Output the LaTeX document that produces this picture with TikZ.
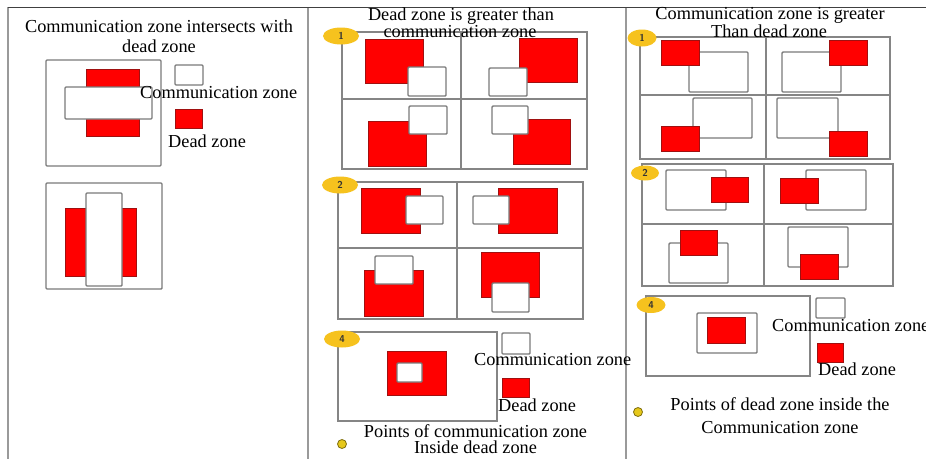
\documentclass[tikz,border=0pt]{standalone}
\usepackage{fontspec}
\setmainfont{Liberation Serif}
\usetikzlibrary{shapes.geometric}
\definecolor{framegray}{HTML}{9A9A9A}
\definecolor{gridgray}{HTML}{858585}
\definecolor{commgray}{HTML}{7A7A7A}
\definecolor{deadred}{HTML}{FF0000}
\definecolor{deadedge}{HTML}{A01010}
\definecolor{tagyellow}{HTML}{F6C21E}
\definecolor{dotyellow}{HTML}{E6C81A}
\tikzset{
  panel/.style={draw=framegray, line width=1.8pt},
  topline/.style={draw=black!75, line width=0.9pt},
  gridline/.style={draw=gridgray, line width=1.5pt},
  comm/.style={fill=white, draw=commgray, line width=1.4pt, rounded corners=1pt},
  dead/.style={fill=deadred, draw=deadedge, line width=0.9pt},
  label/.style={inner sep=0pt, font=\fontsize{18.3}{20}\selectfont},
  tag/.style={ellipse, fill=tagyellow, inner sep=0pt, minimum width=36pt,
    minimum height=17pt, font=\sffamily\bfseries\fontsize{10}{10}\selectfont,
    text=black!80},
  dot/.style={circle, fill=dotyellow, draw=black!45!dotyellow, line width=0.8pt,
    inner sep=0pt, minimum size=9pt}
}
\begin{document}
\begin{tikzpicture}[x=1pt, y=-1pt]
\useasboundingbox (0,0) rectangle (926,459);
\fill[white] (0,0) rectangle (926,459);

% panel frames
\draw[panel] (8,7) -- (8,459);
\draw[panel] (308,7) -- (308,459);
\draw[panel] (626,7) -- (626,459);
\draw[topline] (8,7) -- (926,7);

% ---------------- panel 1 ----------------
\node[label, anchor=base] (t1a) at (159,32) {Communication zone intersects with};
\node[label, anchor=base] (t1b) at (159,52) {dead zone};

\draw[comm] (46,60) rectangle (161,166);
\draw[dead] (86,69) rectangle (139,136);
\draw[comm] (65,87) rectangle (152,119);

\draw[comm] (46,183) rectangle (162,289);
\draw[dead] (65,208) rectangle (136,276);
\draw[comm] (86,193) rectangle (122,286);

\draw[comm] (175,65) rectangle (203,85);
\draw[dead] (175,109) rectangle (202,128);
\node[label, anchor=base west] (l1c) at (140,98) {Communication zone};
\node[label, anchor=base west] (l1d) at (168,147) {Dead zone};

% ---------------- panel 2 ----------------
% group 1
\draw[gridline] (342,32) rectangle (587,169);
\draw[gridline] (461,32) -- (461,169);
\draw[gridline] (342,99) -- (587,99);
\draw[dead] (365,39) rectangle (423,83);
\draw[comm] (408,67) rectangle (446,96);
\draw[dead] (519,38) rectangle (577,82);
\draw[comm] (489,68) rectangle (527,96);
\draw[dead] (368,121) rectangle (426,166);
\draw[comm] (409,106) rectangle (447,134);
\draw[dead] (513,119) rectangle (570,164);
\draw[comm] (492,106) rectangle (528,134);
\node[tag] (tag21) at (341,36) {1};

\node[label, anchor=base] (t2a) at (461,20) {Dead zone is greater than};
\node[label, anchor=base] (t2b) at (460,37.5) {communication zone};

% group 2
\draw[gridline] (338,182) rectangle (583,319);
\draw[gridline] (457,182) -- (457,319);
\draw[gridline] (338,248) -- (583,248);
\draw[dead] (361,188) rectangle (420,233);
\draw[comm] (406,196) rectangle (443,224);
\draw[dead] (498,188) rectangle (557,233);
\draw[comm] (473,196) rectangle (509,224);
\draw[dead] (364,270) rectangle (423,316);
\draw[comm] (375,256) rectangle (413,284);
\draw[dead] (481,252) rectangle (539,297);
\draw[comm] (492,283) rectangle (529,312);
\node[tag] (tag22) at (340,185) {2};

% group 4
\draw[gridline] (338,332) rectangle (497,421);
\draw[dead] (387,351) rectangle (446,395);
\draw[comm] (397,363) rectangle (422,382);
\node[tag] (tag24) at (342,339) {4};

\draw[comm] (502,333) rectangle (530,354);
\draw[dead] (502,378) rectangle (529,397);
\node[label, anchor=base west] (l2c) at (474,365) {Communication zone};
\node[label, anchor=base west] (l2d) at (498,411) {Dead zone};

\node[dot] (dot2) at (342,444) {};
\node[label, anchor=base] (p2a) at (475.5,437) {Points of communication zone};
\node[label, anchor=base] (p2b) at (475.5,453) {Inside dead zone};

% ---------------- panel 3 ----------------
% group 1
\draw[gridline] (640,37) rectangle (890,159);
\draw[gridline] (766,37) -- (766,159);
\draw[gridline] (640,95) -- (890,95);
\draw[comm] (689,52) rectangle (748,92);
\draw[dead] (661,40) rectangle (699,65);
\draw[comm] (782,52) rectangle (841,92);
\draw[dead] (829,40) rectangle (867,65);
\draw[comm] (693,98) rectangle (752,138);
\draw[dead] (661,126) rectangle (699,151);
\draw[comm] (777,98) rectangle (838,138);
\draw[dead] (829,131) rectangle (867,156);
\node[tag, minimum width=29pt] (tag31) at (642,38) {1};

\node[label, anchor=base] (t3a) at (770,19) {Communication zone is greater};
\node[label, anchor=base] (t3b) at (769,37) {Than dead zone};

% group 2
\draw[gridline] (642,164) rectangle (893,286);
\draw[gridline] (764,164) -- (764,286);
\draw[gridline] (642,224) -- (893,224);
\draw[comm] (666,170) rectangle (726,210);
\draw[dead] (711,177) rectangle (748,202);
\draw[comm] (806,170) rectangle (866,210);
\draw[dead] (780,178) rectangle (818,203);
\draw[comm] (669,243) rectangle (728,283);
\draw[dead] (680,230) rectangle (717,255);
\draw[comm] (788,227) rectangle (848,267);
\draw[dead] (800,254) rectangle (838,279);
\node[tag, minimum width=28pt, minimum height=15pt] (tag32) at (645,173) {2};

% group 4
\draw[gridline] (646,296) rectangle (810,376);
\draw[comm] (697,313) rectangle (757,353);
\draw[dead] (707,317) rectangle (745,343);
\node[tag, minimum width=29pt, minimum height=16pt] (tag34) at (651,305) {4};

\draw[comm] (816,298) rectangle (845,318);
\draw[dead] (817,343) rectangle (843,362);
\node[label, anchor=base west] (l3c) at (772,331) {Communication zone};
\node[label, anchor=base west] (l3d) at (818,375) {Dead zone};

\node[dot] (dot3) at (638,412) {};
\node[label, anchor=base] (p3a) at (780,410) {Points of dead zone inside the};
\node[label, anchor=base] (p3b) at (780,433) {Communication zone};
\end{tikzpicture}
\end{document}
